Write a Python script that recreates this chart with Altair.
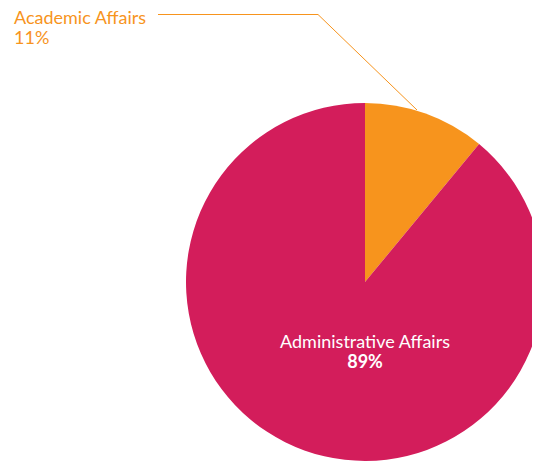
import altair as alt
import pandas as pd

categories = ["Academic Affairs", "Administrative Affairs"]
shares = [11, 89]
colors = ["#F7941D", "#D31D5B"]
share_labels = ["11%", "89%"]

df = pd.DataFrame({"category": categories, "share": shares, "order": [0, 1]})

W, H = 524, 456
OX, OY = 8, 8
cx, cy, r = 365 - OX, 282 - OY, 179
FONT = "Lato"
FS = 18

pie = alt.Chart(df).mark_arc(outerRadius=r, strokeWidth=0).encode(
    theta=alt.Theta("share:Q", stack=True),
    order=alt.Order("order:Q"),
    color=alt.Color("category:N", scale=alt.Scale(domain=categories, range=colors), legend=None),
    x=alt.value(cx),
    y=alt.value(cy),
)

acad = df[df.category == categories[0]]
admin = df[df.category == categories[1]]

acad_name = alt.Chart(acad).mark_text(
    align="left", baseline="alphabetic", font=FONT, fontSize=FS, color="#F7941D"
).encode(text="category:N", x=alt.value(14 - OX), y=alt.value(24 - OY))

acad_pct = alt.Chart(pd.DataFrame({"t": [share_labels[0]]})).mark_text(
    align="left", baseline="alphabetic", font=FONT, fontSize=FS, color="#F7941D"
).encode(text="t:N", x=alt.value(14 - OX), y=alt.value(44 - OY))

admin_name = alt.Chart(admin).mark_text(
    align="center", baseline="alphabetic", font=FONT, fontSize=FS, color="white"
).encode(text="category:N", x=alt.value(365 - OX), y=alt.value(348 - OY))

admin_pct = alt.Chart(pd.DataFrame({"t": [share_labels[1]]})).mark_text(
    align="center", baseline="alphabetic", font=FONT, fontSize=FS, fontWeight="bold", color="white"
).encode(text="t:N", x=alt.value(365 - OX), y=alt.value(368 - OY))

leader_h = alt.Chart(acad).mark_rule(color="#F7941D", strokeWidth=1).encode(
    x=alt.value(158 - OX), x2=alt.value(318 - OX),
    y=alt.value(14.5 - OY), y2=alt.value(14.5 - OY),
)
leader_d = alt.Chart(acad).mark_rule(color="#F7941D", strokeWidth=1).encode(
    x=alt.value(318 - OX), x2=alt.value(417 - OX),
    y=alt.value(14.5 - OY), y2=alt.value(110 - OY),
)

chart = alt.layer(pie, leader_h, leader_d, acad_name, acad_pct, admin_name, admin_pct).properties(
    width=W, height=H, padding=0, autosize=alt.AutoSizeParams(type="none")
).configure_view(stroke=None)

chart.save("out.html", embed_options={"renderer": "svg", "actions": False})
